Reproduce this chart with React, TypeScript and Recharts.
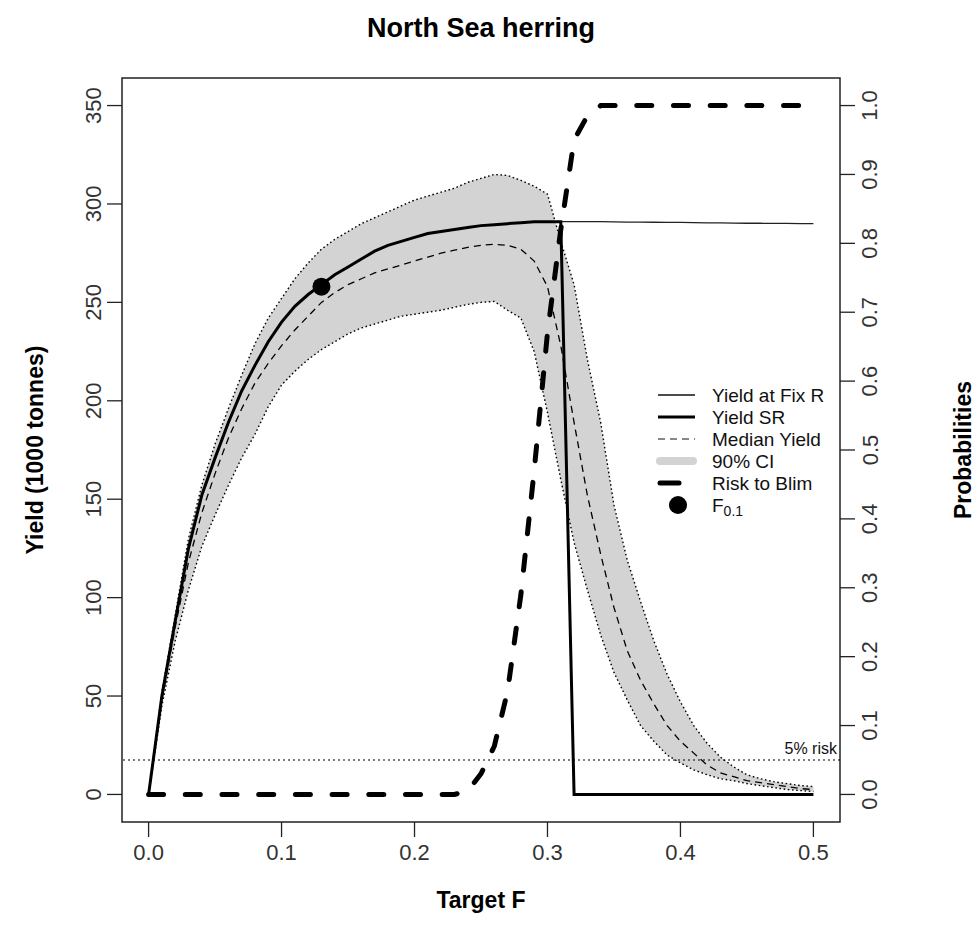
import React from "react";
import {
  Area,
  ComposedChart,
  Label,
  Legend,
  Line,
  ReferenceArea,
  ReferenceDot,
  ReferenceLine,
  XAxis,
  YAxis,
} from "recharts";

const FONT = '"Liberation Sans", Arial, Helvetica, sans-serif';

/** Target F grid, 0 → 0.5 in steps of 0.01. */
const targetF = [
  0, 0.01, 0.02, 0.03, 0.04, 0.05, 0.06, 0.07, 0.08, 0.09,
  0.1, 0.11, 0.12, 0.13, 0.14, 0.15, 0.16, 0.17, 0.18, 0.19,
  0.2, 0.21, 0.22, 0.23, 0.24, 0.25, 0.26, 0.27, 0.28, 0.29,
  0.3, 0.31, 0.32, 0.33, 0.34, 0.35, 0.36, 0.37, 0.38, 0.39,
  0.4, 0.41, 0.42, 0.43, 0.44, 0.45, 0.46, 0.47, 0.48, 0.49, 0.5,
];

/** Yield at fixed recruitment (1000 t). */
const yieldFixR = [
  0, 50, 88, 125, 152, 171, 189, 205, 218, 230,
  240, 248, 254, 259, 264, 268, 272, 276, 279, 281,
  283, 285, 286, 287, 288, 289, 289.5, 290, 290.5, 291,
  291, 291, 291, 291, 291, 290.9, 290.8, 290.8, 290.7, 290.6,
  290.6, 290.5, 290.4, 290.4, 290.3, 290.2, 290.2, 290.1, 290.1, 290, 290,
];

/** Yield with stock-recruit relationship (1000 t). */
const yieldSR = [
  0, 50, 88, 125, 152, 171, 189, 205, 218, 230,
  240, 248, 254, 259, 264, 268, 272, 276, 279, 281,
  283, 285, 286, 287, 288, 289, 289.5, 290, 290.5, 291,
  291, 291, 0, 0, 0, 0, 0, 0, 0, 0,
  0, 0, 0, 0, 0, 0, 0, 0, 0, 0, 0,
];

/** Median simulated yield (1000 t). */
const medianYield = [
  0, 48, 85, 118, 143, 163, 181, 196, 209, 219,
  228, 236, 243, 250, 255, 259, 262, 265, 267, 269,
  271, 273, 275, 276.5, 278, 279, 279.5, 279, 277, 271,
  258, 228, 189, 152, 122, 95, 73, 58, 46, 35,
  27, 21, 15, 11, 9, 7, 6, 5, 4, 3, 2.5,
];

/** 90% CI bounds (1000 t). */
const ciLower = [
  0, 45, 78, 104, 126, 142, 157, 171, 183, 197,
  208, 215, 221, 226, 230, 234, 237, 239, 241, 243,
  244, 245, 246, 247.5, 249, 250, 250.5, 246, 242, 225,
  194, 160, 128, 104, 81, 62, 48, 35, 27, 20,
  16, 12.5, 10, 8, 7, 5.5, 4.5, 3.5, 2.5, 2, 1.5,
];
const ciUpper = [
  0, 52, 91, 130, 157, 178, 196, 213, 229, 242,
  252, 262, 270, 277, 282, 286, 290, 293, 296, 299,
  302, 304, 306, 308, 311, 313, 315, 314.5, 312, 309,
  305, 281, 259, 221, 189, 147, 119, 98, 78, 61,
  47, 35, 26, 19, 14, 10, 8, 6.5, 5.5, 4.5, 4,
];

/** Probability of SSB < Blim. */
const riskBlim = [
  0, 0, 0, 0, 0, 0, 0, 0, 0, 0,
  0, 0, 0, 0, 0, 0, 0, 0, 0, 0,
  0, 0, 0, 0, 0.005, 0.03, 0.07, 0.15, 0.29, 0.47,
  0.67, 0.82, 0.95, 0.985, 1, 1, 1, 1, 1, 1,
  1, 1, 1, 1, 1, 1, 1, 1, 1, 1, 1,
];

const f01F = 0.13;
const f01Yield = 258;
const riskLimit = 0.05;

const xTicks = [0, 0.1, 0.2, 0.3, 0.4, 0.5];
const yieldTicks = [0, 50, 100, 150, 200, 250, 300, 350];
const probTicks = [0, 0.1, 0.2, 0.3, 0.4, 0.5, 0.6, 0.7, 0.8, 0.9, 1];

const legendLabels = ["Yield at Fix R", "Yield SR", "Median Yield", "90% CI", "Risk to Blim"];

const data = targetF.map((f, i) => ({
  F: f,
  fixR: yieldFixR[i],
  sr: yieldSR[i],
  median: medianYield[i],
  lower: ciLower[i],
  upper: ciUpper[i],
  band: [ciLower[i], ciUpper[i]],
  risk: riskBlim[i],
}));

const TICK_STYLE = { fontSize: 22, fontFamily: FONT, fill: "#333" };

function XTick({ x, y, payload }: any) {
  return (
    <text x={x} y={y + 13} textAnchor="middle" dominantBaseline="central" {...TICK_STYLE}>
      {Number(payload.value).toFixed(1)}
    </text>
  );
}

function LeftTick({ x, y, payload }: any) {
  const cx = x - 11;
  return (
    <text
      x={cx}
      y={y}
      transform={`rotate(-90 ${cx} ${y})`}
      textAnchor="middle"
      dominantBaseline="central"
      {...TICK_STYLE}
    >
      {payload.value}
    </text>
  );
}

function RightTick({ x, y, payload }: any) {
  const cx = x + 13;
  return (
    <text
      x={cx}
      y={y}
      transform={`rotate(-90 ${cx} ${y})`}
      textAnchor="middle"
      dominantBaseline="central"
      {...TICK_STYLE}
    >
      {Number(payload.value).toFixed(1)}
    </text>
  );
}

function LegendBox() {
  const rowY = (i: number) => 13 + i * 22;
  return (
    <svg width={200} height={140} style={{ overflow: "visible" }}>
      <line x1={10} x2={47} y1={rowY(0)} y2={rowY(0)} stroke="#111" strokeWidth={1.3} />
      <line x1={10} x2={47} y1={rowY(1)} y2={rowY(1)} stroke="#000" strokeWidth={3} />
      <line x1={10} x2={47} y1={rowY(2)} y2={rowY(2)} stroke="#111" strokeWidth={1.2} strokeDasharray="7 5" />
      <line x1={12} x2={45} y1={rowY(3)} y2={rowY(3)} stroke="#d3d3d3" strokeWidth={8} strokeLinecap="round" />
      <line x1={12} x2={31} y1={rowY(4)} y2={rowY(4)} stroke="#000" strokeWidth={5} strokeLinecap="round" />
      <circle cx={30} cy={rowY(5)} r={9} fill="#000" />
      {legendLabels.map((label, i) => (
        <text key={label} x={64} y={rowY(i)} dominantBaseline="central" fontSize={19} fontFamily={FONT} fill="#111">
          {label}
        </text>
      ))}
      <text x={64} y={rowY(5)} dominantBaseline="central" fontSize={19} fontFamily={FONT} fill="#111">
        F
        <tspan dy={6} fontSize={14}>
          0.1
        </tspan>
      </text>
    </svg>
  );
}

export default function App() {
  return (
    <div style={{ position: "absolute", left: 0, top: 0, width: 978, height: 943, background: "#fff" }}>
      <div
        style={{
          position: "absolute",
          left: 122,
          width: 718,
          top: 12,
          textAlign: "center",
          fontFamily: FONT,
          fontWeight: "bold",
          fontSize: 27,
          lineHeight: "32px",
          color: "#000",
        }}
      >
        North Sea herring
      </div>
      <ComposedChart width={978} height={943} data={data} margin={{ top: 78, right: 0, bottom: 0, left: 0 }}>
        <XAxis
          dataKey="F"
          type="number"
          domain={[-0.02, 0.52]}
          allowDataOverflow
          ticks={xTicks}
          height={121}
          axisLine={false}
          tickSize={15}
          tickLine={{ stroke: "#222", strokeWidth: 1.3 }}
          tick={<XTick />}
          interval={0}
        >
          <Label
            content={({ viewBox }: any) => (
              <text
                x={viewBox.x + viewBox.width / 2}
                y={900}
                textAnchor="middle"
                dominantBaseline="central"
                fontSize={23}
                fontWeight="bold"
                fontFamily={FONT}
                fill="#000"
              >
                Target F
              </text>
            )}
          />
        </XAxis>
        <YAxis
          yAxisId="left"
          type="number"
          domain={[-14, 364]}
          allowDataOverflow
          ticks={yieldTicks}
          width={122}
          axisLine={false}
          tickSize={15}
          tickLine={{ stroke: "#222", strokeWidth: 1.3 }}
          tick={<LeftTick />}
          interval={0}
        >
          <Label
            content={({ viewBox }: any) => {
              const cx = 35;
              const cy = viewBox.y + viewBox.height / 2;
              return (
                <text
                  x={cx}
                  y={cy}
                  transform={`rotate(-90 ${cx} ${cy})`}
                  textAnchor="middle"
                  dominantBaseline="central"
                  fontSize={23}
                  fontWeight="bold"
                  fontFamily={FONT}
                  fill="#000"
                >
                  Yield (1000 tonnes)
                </text>
              );
            }}
          />
        </YAxis>
        <YAxis
          yAxisId="right"
          orientation="right"
          type="number"
          domain={[-0.04, 1.04]}
          allowDataOverflow
          ticks={probTicks}
          width={138}
          axisLine={false}
          tickSize={15}
          tickLine={{ stroke: "#222", strokeWidth: 1.3 }}
          tick={<RightTick />}
          interval={0}
        >
          <Label
            content={({ viewBox }: any) => {
              const cx = 963;
              const cy = viewBox.y + viewBox.height / 2;
              return (
                <text
                  x={cx}
                  y={cy}
                  transform={`rotate(-90 ${cx} ${cy})`}
                  textAnchor="middle"
                  dominantBaseline="central"
                  fontSize={23}
                  fontWeight="bold"
                  fontFamily={FONT}
                  fill="#000"
                >
                  Probabilities
                </text>
              );
            }}
          />
        </YAxis>

        <Area
          yAxisId="left"
          dataKey="band"
          type="linear"
          stroke="none"
          fill="#d3d3d3"
          fillOpacity={1}
          isAnimationActive={false}
        />
        <Line yAxisId="left" dataKey="upper" type="linear" stroke="#000" strokeWidth={1.4} strokeDasharray="1.6 2.6" dot={false} isAnimationActive={false} />
        <Line yAxisId="left" dataKey="lower" type="linear" stroke="#000" strokeWidth={1.4} strokeDasharray="1.6 2.6" dot={false} isAnimationActive={false} />
        <Line yAxisId="left" dataKey="median" type="linear" stroke="#000" strokeWidth={1.3} strokeDasharray="7 5" dot={false} isAnimationActive={false} />
        <Line yAxisId="left" dataKey="fixR" type="linear" stroke="#222" strokeWidth={1.3} dot={false} isAnimationActive={false} />
        <Line yAxisId="left" dataKey="sr" type="linear" stroke="#000" strokeWidth={3} dot={false} isAnimationActive={false} />
        <Line
          yAxisId="right"
          dataKey="risk"
          type="linear"
          stroke="#000"
          strokeWidth={5}
          strokeDasharray="15 21.7"
          strokeLinecap="round"
          dot={false}
          isAnimationActive={false}
        />

        <ReferenceLine
          yAxisId="right"
          y={riskLimit}
          stroke="#000"
          strokeWidth={1.2}
          strokeDasharray="2 3"
          label={({ viewBox }: any) => (
            <text
              x={viewBox.x + viewBox.width - 3}
              y={viewBox.y - 6}
              textAnchor="end"
              fontSize={16}
              fontFamily={FONT}
              fill="#111"
            >
              5% risk
            </text>
          )}
        />
        <ReferenceDot yAxisId="left" x={f01F} y={f01Yield} r={9} fill="#000" stroke="none" />
        <ReferenceArea
          yAxisId="left"
          x1={-0.02}
          x2={0.52}
          y1={-14}
          y2={364}
          fill="none"
          fillOpacity={0}
          stroke="#222"
          strokeWidth={1.5}
          ifOverflow="visible"
        />

        <Legend
          layout="vertical"
          align="center"
          verticalAlign="middle"
          wrapperStyle={{ left: 648, top: 382, width: 200, height: 140 }}
          content={() => <LegendBox />}
        />
      </ComposedChart>
    </div>
  );
}
